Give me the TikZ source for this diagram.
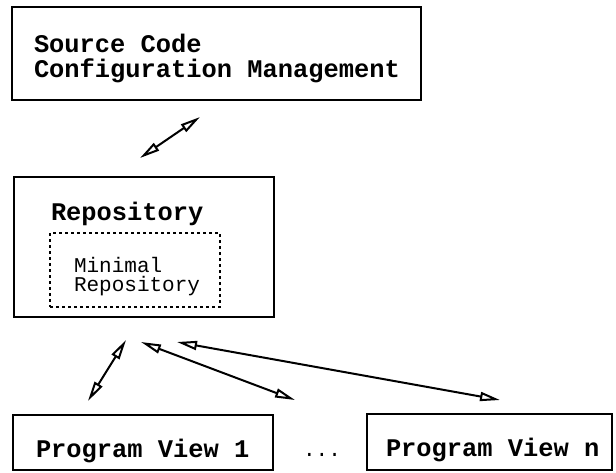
\documentclass[tikz,border=0pt]{standalone}
\usepackage{fontspec}
\setmonofont{Liberation Mono}
\usepackage{tikz}
\usetikzlibrary{arrows.meta, positioning}
\tikzset{open tip/.tip={Triangle[open, length=10pt, width=4.5pt]}}

\begin{document}
\begin{tikzpicture}[x=0.5pt, y=-0.5pt, line width=1pt,
  box/.style={draw, inner sep=0pt},
  label/.style={anchor=base west, inner sep=0pt, align=left, font=\fontsize{12.7}{12.5}\selectfont\ttfamily\bfseries},
  small/.style={anchor=base west, inner sep=0pt, align=left, font=\fontsize{10.5}{9.5}\selectfont\ttfamily},
  link/.style={open tip-open tip}]
\useasboundingbox (0,0) rectangle (616,472);
% boxes
\node[box, minimum width=204.5pt, minimum height=46.5pt] (scm) at (216.5,53.5) {};
\node[box, minimum width=130pt, minimum height=70pt] (repo) at (144,247) {};
\node[box, dash pattern=on 1.5pt off 1.5pt, minimum width=85pt, minimum height=37pt] (minrepo) at (135,270) {};
\node[box, minimum width=130pt, minimum height=27.5pt] (pv1) at (143,442.5) {};
\node[box, minimum width=122.5pt, minimum height=28pt] (pvn) at (489.5,442) {};
% texts (base = last line)
\node[label] (scmtext) at (33,77) {Source Code\\Configuration Management};
\node[label] (repotext) at (50,220) {Repository};
\node[small] (mintext) at (73,291) {Minimal\\Repository};
\node[label] (pv1text) at (35,457) {Program View 1};
\node[label] (pvntext) at (385,456) {Program View n};
\node[small, anchor=base] (dots) at (322,456) {...};
% arrow ends
\coordinate (scmend) at (200,117);
\coordinate (repoup) at (140,158);
\coordinate (repoa) at (126,340);
\coordinate (repob) at (141,342);
\coordinate (repoc) at (177,342);
\coordinate (pva) at (88,401);
\coordinate (pvb) at (295,400);
\coordinate (pvc) at (500,400);
\draw[link] (repoup) -- (scmend);
\draw[link] (pva) -- (repoa);
\draw[link] (repob) -- (pvb);
\draw[link] (repoc) -- (pvc);
\end{tikzpicture}
\end{document}
